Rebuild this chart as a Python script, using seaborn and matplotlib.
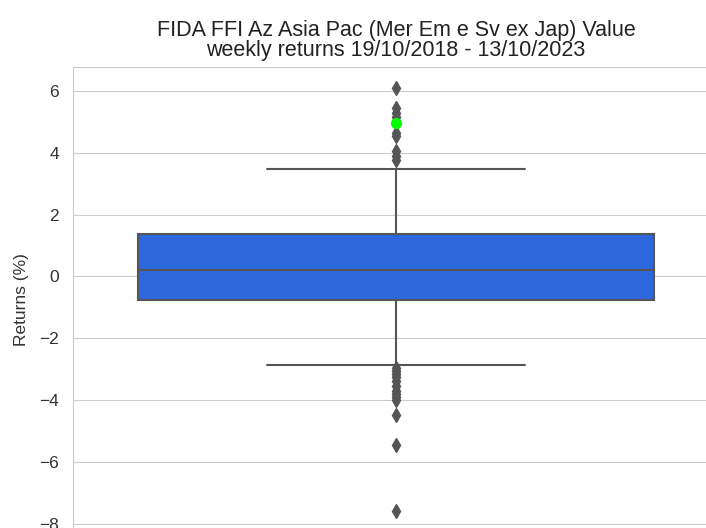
import matplotlib
matplotlib.use("Agg")
import pandas as pd
import seaborn as sns
import matplotlib.pyplot as plt

# Valori (rendimenti settimanali, %)
q1 = -0.78
mediana = 0.22
q3 = 1.38
baffo_basso = -2.86
baffo_alto = 3.48
outlier_alti = [6.08, 5.45, 5.3, 5.15, 4.95, 4.65, 4.55, 4.05, 3.9, 3.75]
outlier_bassi = [-2.98, -3.05, -3.15, -3.25, -3.4, -3.55, -3.7, -3.8, -3.9, -4.0,
                 -4.5, -5.45, -7.6]
ultimo_rendimento = 4.95

titolo = ("FIDA FFI Az Asia Pac (Mer Em e Sv ex Jap) Value\n"
          "weekly returns 19/10/2018 - 13/10/2023")

# Serie che riproduce quartili, baffi e outlier
rendimenti = (outlier_bassi + [baffo_basso] + [q1] * 40 + [mediana] * 40
              + [q3] * 40 + [baffo_alto] + outlier_alti)
df = pd.DataFrame({"Returns (%)": rendimenti})

sns.set_style("whitegrid")
plt.rcParams["font.family"] = ["Liberation Sans", "DejaVu Sans"]

fig = plt.figure(figsize=(7.06, 5.28), dpi=100)
ax = fig.add_axes([73 / 706, -4.3 / 528, 646 / 706, 465 / 528])

sns.boxplot(data=df, y="Returns (%)", color="#2d67de", saturation=1,
            linecolor="#555555", linewidth=1.5, fliersize=7, whis=1.0,
            flierprops={"marker": "d", "markerfacecolor": "#555555",
                        "markeredgecolor": "#555555"}, ax=ax)
ax.scatter([0], [ultimo_rendimento], color="lime", s=50, zorder=5)

ax.set_xlim(-0.5, 0.5)
ax.set_title(titolo, fontsize=15.5, linespacing=0.95, color="#222222", pad=8)
ax.set_ylabel("Returns (%)", fontsize=12.5, color="#333333", labelpad=7.5)
ax.tick_params(labelsize=12.5, pad=6.5, labelcolor="#333333")
ax.set_xticks([])

fig.savefig("out.png", dpi=100)
